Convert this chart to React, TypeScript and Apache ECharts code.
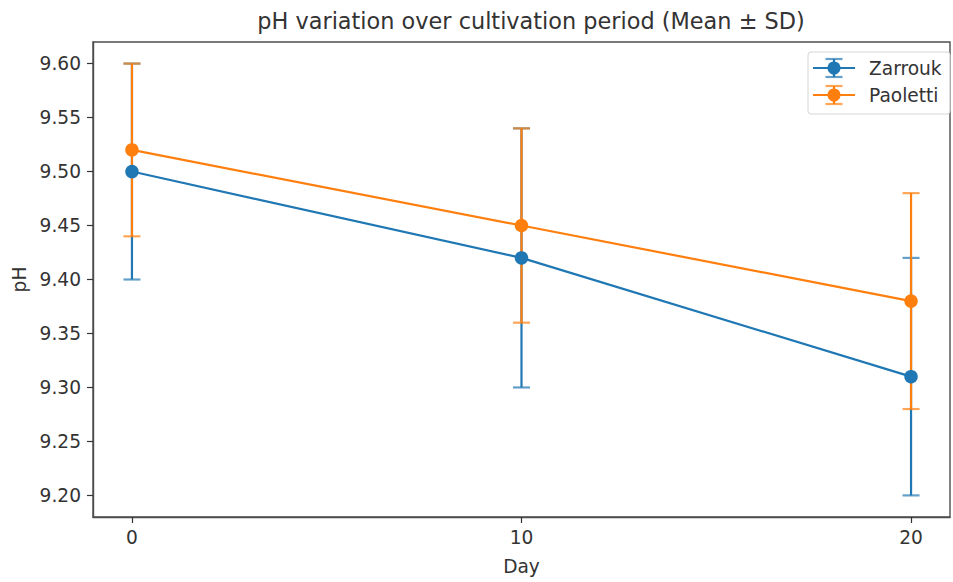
import React, { useEffect, useRef } from "react";
import * as echarts from "echarts";

const days = [0, 10, 20];
const zarroukMean = [9.5, 9.42, 9.31];
const zarroukSD = [0.1, 0.12, 0.11];
const paolettiMean = [9.52, 9.45, 9.38];
const paolettiSD = [0.08, 0.09, 0.1];
const xTicks = [0, 10, 20];
const yTicks = [9.2, 9.25, 9.3, 9.35, 9.4, 9.45, 9.5, 9.55, 9.6];
const seriesNames = ["Zarrouk", "Paoletti"];
const colors = ["#1f77b4", "#ff7f0e"];

const FONT = "DejaVu Sans";
const FS = 18.6;

function errorSeries(name: string, means: number[], sds: number[], color: string) {
  return {
    name: name + " SD",
    type: "custom",
    z: 1,
    data: days.map((d, i) => [d, means[i], sds[i]]),
    encode: { x: 0, y: 1 },
    renderItem: (params: any, api: any) => {
      const x = api.value(0);
      const m = api.value(1);
      const s = api.value(2);
      const lo = api.coord([x, m - s]);
      const hi = api.coord([x, m + s]);
      const cap = 8.5;
      const st = { stroke: color, lineWidth: 2.2 };
      return {
        type: "group",
        children: [
          { type: "line", shape: { x1: lo[0], y1: lo[1], x2: hi[0], y2: hi[1] }, style: st },
          { type: "line", shape: { x1: lo[0] - cap, y1: lo[1], x2: lo[0] + cap, y2: lo[1] }, style: { ...st, opacity: 0.7 } },
          { type: "line", shape: { x1: hi[0] - cap, y1: hi[1], x2: hi[0] + cap, y2: hi[1] }, style: { ...st, opacity: 0.7 } },
        ],
      };
    },
  };
}

function lineSeries(name: string, means: number[], color: string, z: number) {
  return {
    name,
    type: "line",
    z,
    data: days.map((d, i) => [d, means[i]]),
    symbol: "circle",
    symbolSize: 13.5,
    itemStyle: { color },
    lineStyle: { color, width: 2.2 },
  };
}

function legendGraphic() {
  const x0 = 808;
  const y0 = 52;
  const rows = [68, 95];
  const children: any[] = [
    {
      type: "rect",
      shape: { x: x0, y: y0, width: 142, height: 62, r: 3 },
      style: { fill: "rgba(255,255,255,0.8)", stroke: "#d6d6d6", lineWidth: 1 },
    },
  ];
  seriesNames.forEach((n, i) => {
    const cy = rows[i];
    const c = colors[i];
    children.push(
      { type: "line", shape: { x1: 813, y1: cy, x2: 855, y2: cy }, style: { stroke: c, lineWidth: 2.2 } },
      { type: "line", shape: { x1: 834, y1: cy - 9, x2: 834, y2: cy + 9 }, style: { stroke: c, lineWidth: 2.2 } },
      { type: "line", shape: { x1: 825.5, y1: cy - 9, x2: 842.5, y2: cy - 9 }, style: { stroke: c, lineWidth: 2.2, opacity: 0.7 } },
      { type: "line", shape: { x1: 825.5, y1: cy + 9, x2: 842.5, y2: cy + 9 }, style: { stroke: c, lineWidth: 2.2, opacity: 0.7 } },
      { type: "circle", shape: { cx: 834, cy, r: 6.5 }, style: { fill: c } },
      {
        type: "text",
        x: 869,
        y: cy,
        style: { text: n, fill: "#333333", font: `${FS}px '${FONT}'`, verticalAlign: "middle", align: "left" },
      }
    );
  });
  return { type: "group", z: 100, children };
}

export default function App() {
  const ref = useRef<HTMLDivElement>(null);
  useEffect(() => {
    document.body.style.margin = "0";
    const chart = echarts.init(ref.current!, undefined, { renderer: "svg" });
    const axisText = { color: "#333333", fontFamily: FONT, fontSize: FS };
    const axisLineStyle = { color: "#4d4d4d", width: 1.4 };
    chart.setOption({
      animation: false,
      backgroundColor: "#ffffff",
      title: {
        text: "pH variation over cultivation period (Mean ± SD)",
        left: 526,
        textAlign: "center",
        top: 5,
        textStyle: { color: "#333333", fontFamily: FONT, fontSize: 22.4, fontWeight: "normal" },
      },
      grid: {
        left: 93,
        right: 3,
        top: 42,
        bottom: 65,
        show: true,
        borderColor: "#4d4d4d",
        borderWidth: 1.4,
        backgroundColor: "transparent",
      },
      xAxis: {
        type: "value",
        min: -1,
        max: 21,
        name: "Day",
        nameLocation: "middle",
        nameGap: 40,
        nameTextStyle: axisText,
        axisLine: { show: true, onZero: false, lineStyle: axisLineStyle },
        axisTick: { show: true, length: 6, lineStyle: { color: "#333333", width: 1.2 }, customValues: xTicks },
        axisLabel: { ...axisText, margin: 11, customValues: xTicks, formatter: (v: number) => String(v) },
        splitLine: { show: false },
      },
      yAxis: {
        type: "value",
        min: 9.18,
        max: 9.62,
        name: "pH",
        nameLocation: "middle",
        nameGap: 64,
        nameRotate: 90,
        nameTextStyle: axisText,
        axisLine: { show: true, onZero: false, lineStyle: axisLineStyle },
        axisTick: { show: true, length: 6, lineStyle: { color: "#333333", width: 1.2 }, customValues: yTicks },
        axisLabel: { ...axisText, margin: 12, customValues: yTicks, formatter: (v: number) => v.toFixed(2) },
        splitLine: { show: false },
      },
      series: [
        errorSeries(seriesNames[0], zarroukMean, zarroukSD, colors[0]),
        errorSeries(seriesNames[1], paolettiMean, paolettiSD, colors[1]),
        lineSeries(seriesNames[0], zarroukMean, colors[0], 3),
        lineSeries(seriesNames[1], paolettiMean, colors[1], 4),
      ],
      graphic: [legendGraphic()],
    });
    return () => chart.dispose();
  }, []);
  return <div ref={ref} style={{ width: 953, height: 582 }} />;
}
